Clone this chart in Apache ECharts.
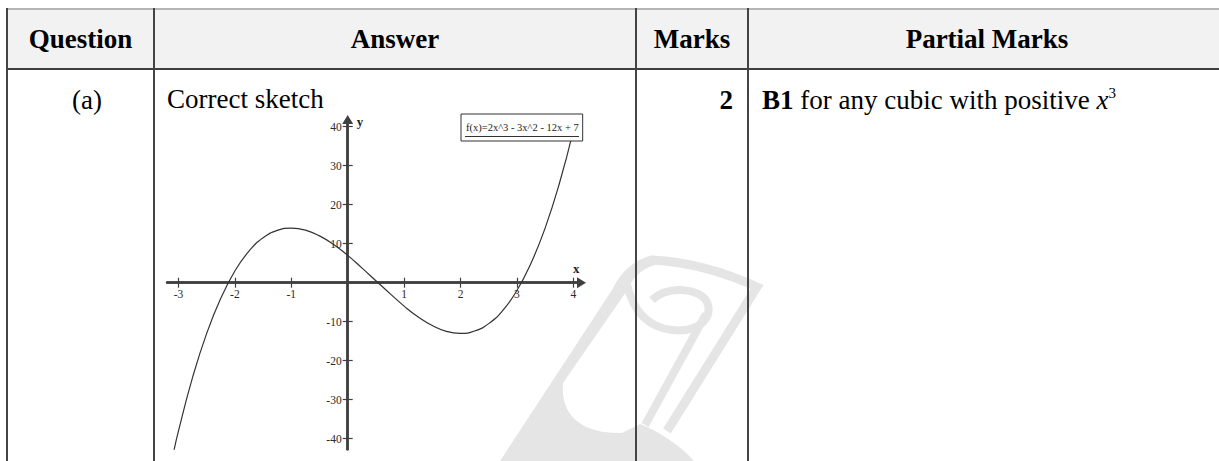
<!DOCTYPE html>
<html><head><meta charset="utf-8">
<script src="https://cdn.jsdelivr.net/npm/echarts@6/dist/echarts.min.js"></script>
<style>
html,body{margin:0;padding:0;width:1219px;height:461px;overflow:hidden;background:#fff;}
.abs{position:absolute;}
.t{position:absolute;font-family:"Liberation Serif","Times New Roman",serif;font-size:27px;line-height:27px;color:#000;white-space:nowrap;}
.b{font-weight:bold;}
.vl{position:absolute;top:8px;width:2px;height:453px;background:#444;}
</style></head>
<body>
<svg class="abs" style="left:0;top:0" width="1219" height="461">
  <g fill="#e5e5e5" stroke="none">
    <path d="M 500 461 L 612 290 Q 625 262 653 255 L 655 265 Q 636 270 626 292 L 563 383 C 560 418 585 434 622 433 L 640 424 C 662 433 682 447 694 461 Z"/>
  </g>
  <g fill="none" stroke="#e5e5e5" stroke-width="9" stroke-linejoin="miter">
    <path d="M 652 260 Q 705 263 757 287 L 667 431"/>
    <path d="M 627 284 C 633 312 648 327 672 330 C 698 333 714 318 707 302 C 700 288 668 285 652 300" stroke-width="8"/>
    <path d="M 706 314 L 645 425" stroke-width="8"/>
  </g>
</svg>
<div class="abs" style="left:7px;top:9px;width:1212px;height:60px;background:#f2f2f2"></div>
<div class="abs" style="left:6px;top:8px;width:1213px;height:2px;background:#b5b5b5"></div>
<div class="abs" style="left:6px;top:68px;width:1213px;height:2px;background:#404040"></div>
<div class="vl" style="left:6px"></div>
<div class="vl" style="left:153px"></div>
<div class="vl" style="left:635px"></div>
<div class="vl" style="left:747px"></div>

<div class="t b" style="left:7px;top:26px;width:147px;text-align:center">Question</div>
<div class="t b" style="left:155px;top:26px;width:480px;text-align:center">Answer</div>
<div class="t b" style="left:637px;top:26px;width:110px;text-align:center">Marks</div>
<div class="t b" style="left:749px;top:26px;width:476px;text-align:center">Partial Marks</div>

<div class="t" style="left:72px;top:87px">(a)</div>
<div class="t" style="left:167px;top:86px">Correct sketch</div>
<div class="t b" style="left:637px;top:87px;width:96px;text-align:right">2</div>
<div class="t" style="left:762px;top:87px"><b>B1</b> for any cubic with positive <i>x</i><span style="font-size:15px;position:relative;top:-11px">3</span></div>

<div id="chart" class="abs" style="left:0;top:0;width:1219px;height:461px"></div>
<script>
// ---- data ----
const seriesName = 'f(x)=2x^3 - 3x^2 - 12x + 7';
const xValues = [-3.08, -3, -2.75, -2.5, -2.25, -2, -1.75, -1.5, -1.25, -1, -0.75, -0.5, -0.25, 0, 0.25, 0.5, 0.75, 1, 1.25, 1.5, 1.75, 2, 2.25, 2.5, 2.75, 3, 3.25, 3.5, 3.75, 4];
const yValues = [-43, -38, -24.3, -13, -4, 3, 8.1, 11.5, 13.4, 14, 13.5, 12, 9.8, 7, 3.8, 0.5, -2.8, -6, -8.8, -11, -12.5, -13, -12.4, -10.5, -7.1, -2, 5, 14, 25.3, 39];
const xTickValues = [-3, -2, -1, 1, 2, 3, 4];
const yTickValues = [40, 30, 20, 10, -10, -20, -30, -40];

const axisColor = '#404040';
const serif = '"Liberation Serif","Times New Roman",serif';
const xMin = -3.2, xMax = 4.145, yMin = -42.7, yMax = 41.85;
const gridLeft = 167.2, gridTop = 119.5, gridW = 414.3, gridH = 329.7;

// offsets that put the axes through the origin (axes cross at 0)
const offLeft = -gridW * (0 - xMin) / (xMax - xMin);
const offRight = -gridW * (xMax - 0) / (xMax - xMin);
const offBottom = -gridH * (0 - yMin) / (yMax - yMin);
const offTop = -gridH * (yMax - 0) / (yMax - yMin);

const chart = echarts.init(document.getElementById('chart'), null, {renderer: 'svg'});

function xAxisDef(primary) {
  return {
    type: 'value', min: xMin, max: xMax, position: primary ? 'bottom' : 'top',
    offset: primary ? offBottom : offTop,
    axisLine: {show: true, onZero: false, lineStyle: {color: axisColor, width: 2.5},
      symbol: primary ? ['none', 'triangle'] : ['none', 'none'], symbolSize: [11, 9]},
    axisTick: {show: true, inside: false, length: 5, customValues: xTickValues,
      lineStyle: {color: axisColor, width: 1.2}},
    axisLabel: {show: primary, customValues: xTickValues, margin: 5,
      fontFamily: serif, fontSize: 11.5, color: '#2a2a2a'},
    splitLine: {show: false},
    name: primary ? 'x' : '', nameLocation: 'end', nameGap: -8.5, nameMoveOverlap: false,
    nameTextStyle: {fontFamily: serif, fontWeight: 'bold', fontSize: 13, color: '#222',
      align: 'left', verticalAlign: 'bottom', lineHeight: 13, padding: [0, 0, 8, 0]}
  };
}
function yAxisDef(primary) {
  return {
    type: 'value', min: yMin, max: yMax, position: primary ? 'left' : 'right',
    offset: primary ? offLeft : offRight,
    axisLine: {show: true, onZero: false, lineStyle: {color: axisColor, width: 2.5},
      symbol: primary ? ['none', 'triangle'] : ['none', 'none'], symbolSize: [11, 9]},
    axisTick: {show: true, inside: false, length: 5, customValues: yTickValues,
      lineStyle: {color: axisColor, width: 1.2}},
    axisLabel: {show: primary, customValues: yTickValues, margin: 6,
      fontFamily: serif, fontSize: 11.5, color: '#2a2a2a'},
    splitLine: {show: false},
    name: primary ? 'y' : '', nameLocation: 'end', nameGap: -2, nameMoveOverlap: false,
    nameTextStyle: {fontFamily: serif, fontWeight: 'bold', fontSize: 13, color: '#222',
      align: 'left', verticalAlign: 'middle', padding: [0, 0, 0, 9]}
  };
}

chart.setOption({
  animation: false,
  backgroundColor: 'transparent',
  grid: {left: gridLeft, top: gridTop, width: gridW, height: gridH, containLabel: false},
  legend: {
    show: true, data: [seriesName], left: 461, top: 114, itemWidth: 0, itemHeight: 0, itemGap: 0,
    icon: 'rect', selectedMode: false, padding: [7, 4, 8, 0],
    backgroundColor: '#fff', borderColor: '#333', borderWidth: 1, borderRadius: 0,
    textStyle: {fontFamily: serif, fontSize: 10.5, lineHeight: 12, color: '#222'}
  },
  xAxis: [xAxisDef(true), xAxisDef(false)],
  yAxis: [yAxisDef(true), yAxisDef(false)],
  series: [{
    type: 'line', name: seriesName, xAxisIndex: 0, yAxisIndex: 0,
    data: xValues.map((x, i) => [x, yValues[i]]),
    showSymbol: false, smooth: true, clip: true,
    lineStyle: {color: '#333', width: 1.2}
  }],
  graphic: [{
    type: 'line', z: 100,
    shape: {x1: 465, y1: 136.5, x2: 579, y2: 136.5},
    style: {stroke: '#333', lineWidth: 1}
  }]
});
</script>
</body></html>
